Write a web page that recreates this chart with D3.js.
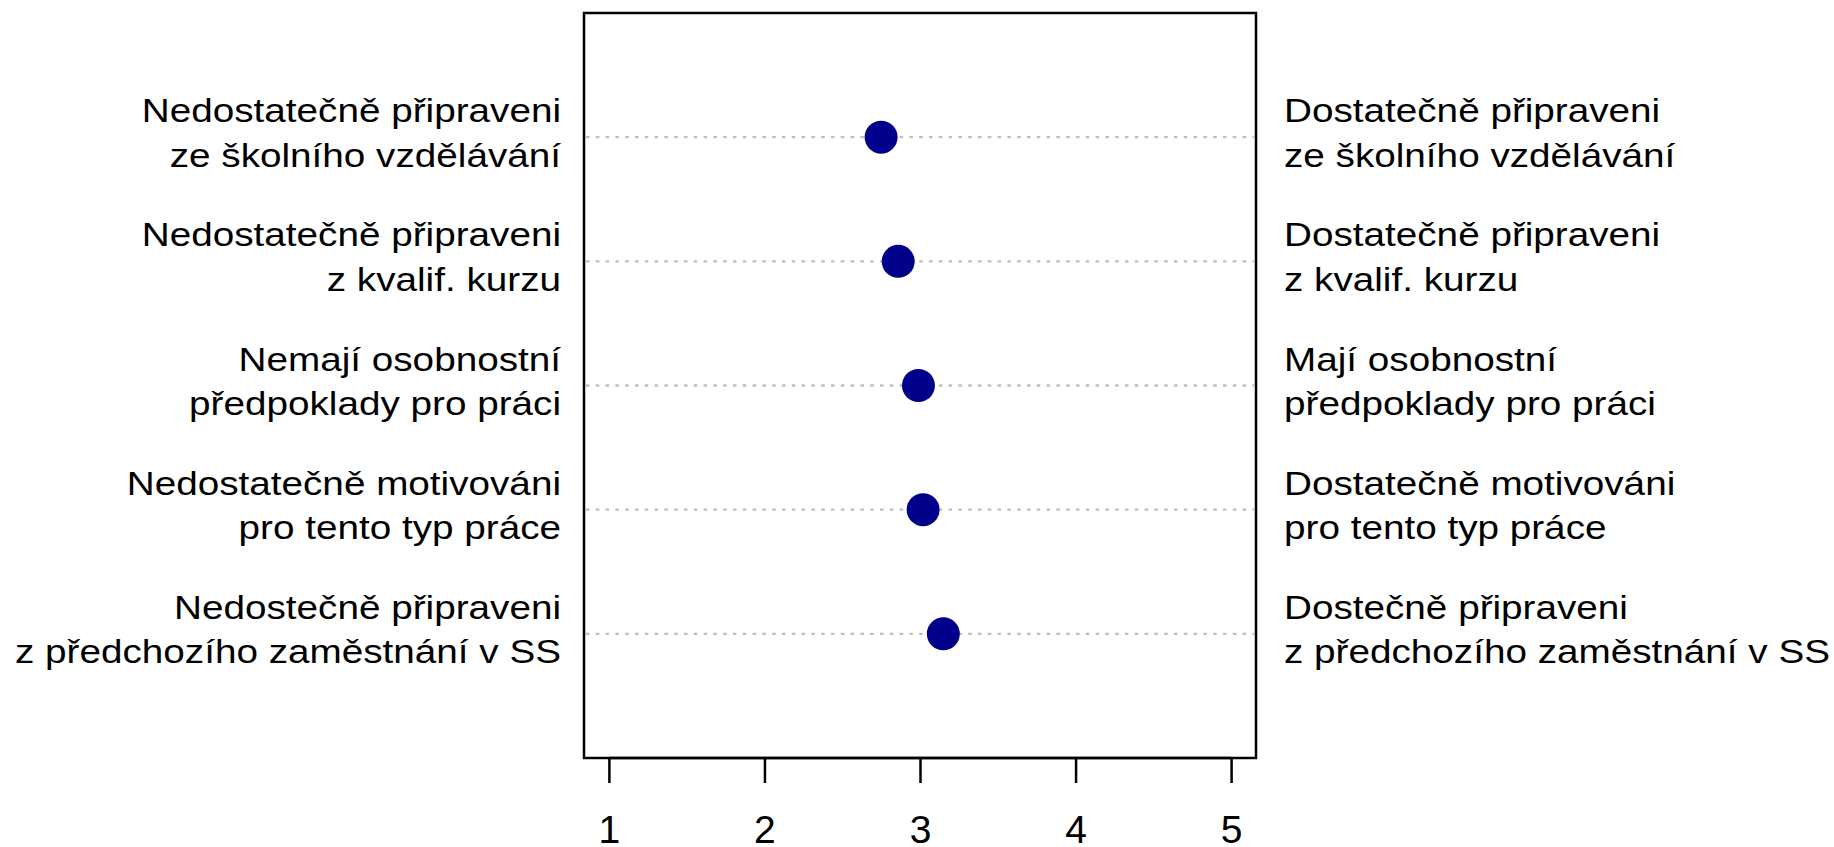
<!DOCTYPE html>
<html>
<head>
<meta charset="utf-8">
<script src="https://cdn.jsdelivr.net/npm/d3@7"></script>
<style>
  body { margin: 0; background: #fff; }
  text { font-family: "Liberation Sans", Arial, sans-serif; fill: #000; }
</style>
</head>
<body>
<div id="chart"></div>
<script>
// left-side (negative) labels, one array entry per row, lines split by "\n"
const leftLabels = [
    "Nedostatečně připraveni\nze školního vzdělávání",
    "Nedostatečně připraveni\nz kvalif. kurzu",
    "Nemají osobnostní\npředpoklady pro práci",
    "Nedostatečně motivováni\npro tento typ práce",
    "Nedostečně připraveni\nz předchozího zaměstnání v SS"
];
const rightLabels = [
    "Dostatečně připraveni\nze školního vzdělávání",
    "Dostatečně připraveni\nz kvalif. kurzu",
    "Mají osobnostní\npředpoklady pro práci",
    "Dostatečně motivováni\npro tento typ práce",
    "Dostečně připraveni\nz předchozího zaměstnání v SS"
];
const values = [2.75, 2.86, 2.99, 3.02, 3.15];
const xTicks = [1, 2, 3, 4, 5];

const W = 1834, H = 847;
const box = { left: 584, right: 1256, top: 13, bottom: 758 };
const stretch = 1.155; // labels in the original are drawn a bit wider than normal

const svg = d3.select("#chart").append("svg")
    .attr("width", W)
    .attr("height", H);

const x = d3.scaleLinear().domain([0.84, 5.16]).range([box.left, box.right]);
const y = d3.scaleLinear().domain([0, 6]).range([box.top, box.bottom]);

const rows = values.map((v, i) => ({ v, row: i + 1, left: leftLabels[i], right: rightLabels[i] }));

// dotted guide lines
svg.selectAll(".guide")
    .data(rows)
    .enter().append("line")
    .attr("class", "guide")
    .attr("x1", box.left + 2)
    .attr("x2", box.right - 2)
    .attr("y1", d => y(d.row))
    .attr("y2", d => y(d.row))
    .attr("stroke", "#bebebe")
    .attr("stroke-width", 2.4)
    .attr("stroke-dasharray", "3.5,6.3");

// points
svg.selectAll(".dot")
    .data(rows)
    .enter().append("circle")
    .attr("class", "dot")
    .attr("cx", d => x(d.v))
    .attr("cy", d => y(d.row))
    .attr("r", 16.5)
    .attr("fill", "#00008b");

// plot frame
svg.append("rect")
    .attr("x", box.left)
    .attr("y", box.top)
    .attr("width", box.right - box.left)
    .attr("height", box.bottom - box.top)
    .attr("fill", "none")
    .attr("stroke", "#000")
    .attr("stroke-width", 2.5);

// bottom axis
const axis = svg.append("g")
    .attr("transform", `translate(0,${box.bottom})`)
    .call(d3.axisBottom(x)
        .tickValues(xTicks)
        .tickFormat(d3.format("d"))
        .tickSize(25)
        .tickPadding(32)
        .tickSizeOuter(0));
axis.select(".domain")
    .attr("d", `M${x(1)},0H${x(5)}`)
    .attr("stroke-width", 2.5);
axis.selectAll(".tick line").attr("stroke-width", 2.5);
axis.selectAll(".tick text")
    .style("font-family", '"Liberation Sans", Arial, sans-serif')
    .style("font-size", "39px");

// row labels on both sides
function addLabels(key, xPos, anchor) {
    const g = svg.selectAll(".lab-" + key)
        .data(rows)
        .enter().append("text")
        .attr("class", "lab-" + key)
        .attr("transform", d => `translate(${xPos},${y(d.row)}) scale(${stretch},1)`)
        .attr("text-anchor", anchor)
        .style("font-size", "33.5px");
    g.selectAll("tspan")
        .data(d => d[key].split("\n").map((t, j) => ({ t, j })))
        .enter().append("tspan")
        .attr("x", 0)
        .attr("dy", d => d.j === 0 ? -15 : 44.5)
        .text(d => d.t);
}
addLabels("left", 561, "end");
addLabels("right", 1284, "start");
</script>
</body>
</html>
